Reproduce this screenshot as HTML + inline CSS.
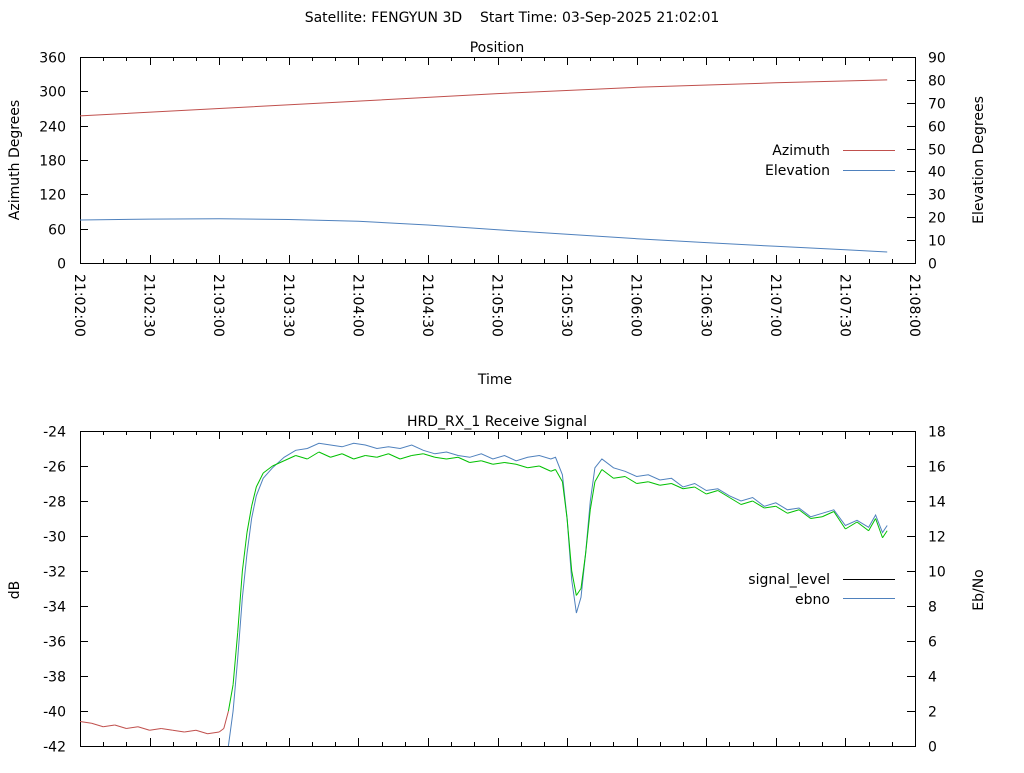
<!DOCTYPE html>
<html><head><meta charset="utf-8"><style>
body{margin:0;background:#fff}
svg text{font-family:"DejaVu Sans","Liberation Sans",sans-serif;font-size:14px;fill:#000;white-space:pre}
</style></head><body>
<svg id="c" width="1024" height="768" viewBox="0 0 1024 768" xmlns="http://www.w3.org/2000/svg">
<defs>
<clipPath id="clipTop"><rect x="80" y="57" width="835" height="206"/></clipPath>
<clipPath id="clipBot"><rect x="80" y="431" width="835" height="315"/></clipPath>
</defs>
<text x="512" y="22" text-anchor="middle" xml:space="preserve">Satellite: FENGYUN 3D    Start Time: 03-Sep-2025 21:02:01</text>
<text x="497" y="52" text-anchor="middle">Position</text>
<text x="497" y="426" text-anchor="middle">HRD_RX_1 Receive Signal</text>
<text x="495" y="384" text-anchor="middle">Time</text>
<text transform="translate(19,160) rotate(-90)" text-anchor="middle">Azimuth Degrees</text>
<text transform="translate(983,160) rotate(-90)" text-anchor="middle">Elevation Degrees</text>
<text transform="translate(19,590) rotate(-90)" text-anchor="middle">dB</text>
<text transform="translate(983,590) rotate(-90)" text-anchor="middle">Eb/No</text>
<g id="g"></g>
</svg>
<script>
// Position data (seconds since 21:02:00)
const posTimes = [0, 60, 120, 180, 240, 300, 348];
const azimuth = [257, 270, 283, 296, 307, 315, 320];
const elevTimes = [0, 30, 60, 90, 120, 150, 180, 210, 240, 270, 300, 330, 348];
const elevation = [18.8, 19.2, 19.3, 19.0, 18.2, 16.6, 14.5, 12.6, 10.6, 8.9, 7.3, 5.8, 4.8];
// Signal data
const sigTimes = [0,5,10,15,20,25,30,35,40,45,50,55,60,62,64,66,68,70,72,74,76,79,83,88,93,98,103,108,113,118,123,128,133,138,143,148,153,158,163,168,173,178,183,188,193,198,203,205,208,210,212,214,216,218,220,222,225,230,235,240,245,250,255,260,265,270,275,280,285,290,295,300,305,310,315,320,325,330,335,340,343,346,348];
const signalLevel = [-40.6,-40.7,-40.9,-40.8,-41.0,-40.9,-41.1,-41.0,-41.1,-41.2,-41.1,-41.3,-41.2,-41.0,-40.0,-38.5,-35.5,-32.0,-29.8,-28.3,-27.2,-26.4,-26.0,-25.7,-25.4,-25.6,-25.2,-25.5,-25.3,-25.6,-25.4,-25.5,-25.3,-25.6,-25.4,-25.3,-25.5,-25.6,-25.5,-25.8,-25.7,-25.9,-25.8,-25.9,-26.1,-26.0,-26.3,-26.2,-26.9,-29.0,-32.0,-33.4,-33.0,-31.0,-28.5,-26.9,-26.2,-26.7,-26.6,-27.0,-26.9,-27.1,-27.0,-27.3,-27.2,-27.6,-27.4,-27.8,-28.2,-28.0,-28.4,-28.3,-28.7,-28.5,-29.0,-28.9,-28.6,-29.6,-29.2,-29.7,-29.0,-30.1,-29.7];
const ebno = [-2,-2,-2,-2,-2,-2,-2,-2,-2,-2,-2,-2,-2,-1.5,0,2.0,5.0,8.5,11.0,13.0,14.3,15.3,15.9,16.5,16.9,17.0,17.3,17.2,17.1,17.3,17.2,17.0,17.1,17.0,17.2,16.9,16.7,16.8,16.6,16.5,16.7,16.4,16.6,16.3,16.5,16.6,16.4,16.5,15.5,13.0,9.5,7.6,8.5,11.0,14.0,15.9,16.4,15.9,15.7,15.4,15.5,15.2,15.3,14.8,15.0,14.6,14.7,14.3,14.0,14.2,13.7,13.9,13.5,13.6,13.1,13.3,13.5,12.6,12.9,12.5,13.2,12.2,12.6];
const azTicks = [0,60,120,180,240,300,360];
const elTicks = [0,10,20,30,40,50,60,70,80,90];
const dbTicks = [-42,-40,-38,-36,-34,-32,-30,-28,-26,-24];
const ebTicks = [0,2,4,6,8,10,12,14,16,18];
const timeLabels = ["21:02:00","21:02:30","21:03:00","21:03:30","21:04:00","21:04:30","21:05:00","21:05:30","21:06:00","21:06:30","21:07:00","21:07:30","21:08:00"];

const NS="http://www.w3.org/2000/svg";
const G=document.getElementById('g');
const X0=80,X1=915;
const xs=t=>X0+(t/360)*(X1-X0);
const T={top:57,bot:263}, B={top:431,bot:746};
const yAz=v=>T.bot-(v/360)*(T.bot-T.top);
const yEl=v=>T.bot-(v/90)*(T.bot-T.top);
const yDb=v=>B.bot-((v+42)/18)*(B.bot-B.top);
const yEb=v=>B.bot-(v/18)*(B.bot-B.top);
function mk(tag,at){const e=document.createElementNS(NS,tag);for(const k in at)e.setAttribute(k,at[k]);G.appendChild(e);return e;}
function line(x1,y1,x2,y2,c,name){const e=mk('line',{x1,y1,x2,y2,stroke:c||'#000','stroke-width':1});

return e;}
function txt(x,y,s,anchor,name){const e=mk('text',{x,y,'text-anchor':anchor});e.textContent=s;

return e;}

function frame(P,name){
  const r=mk('rect',{x:X0+0.5,y:P.top+0.5,width:X1-X0,height:P.bot-P.top,fill:'none',stroke:'#000'});
  
  
  for(let t=0;t<=360;t+=10){const x=Math.round(xs(t))+0.5;const L=(t%30==0)?8:4;
    line(x,P.bot,x,P.bot-L,'#000','x-tick');line(x,P.top,x,P.top+L,'#000','x-tick');}
}
frame(T,'position-plot-frame');frame(B,'signal-plot-frame');
azTicks.forEach(v=>{const y=Math.round(yAz(v))+0.5;line(X0,y,X0+8,y,'#000','azimuth-tick');txt(66,y+5,String(v),'end','azimuth-tick-label');});
elTicks.forEach(v=>{const y=Math.round(yEl(v))+0.5;line(X1,y,X1-8,y,'#000','elevation-tick');txt(928,y+5,String(v),'start','elevation-tick-label');});
dbTicks.forEach(v=>{const y=Math.round(yDb(v))+0.5;line(X0,y,X0+8,y,'#000','db-tick');txt(66,y+5,String(v),'end','db-tick-label');});
ebTicks.forEach(v=>{const y=Math.round(yEb(v))+0.5;line(X1,y,X1-8,y,'#000','ebno-tick');txt(928,y+5,String(v),'start','ebno-tick-label');});
timeLabels.forEach((s,i)=>{const x=xs(i*30);const e=mk('text',{transform:`translate(${x-5},274) rotate(90)`,'text-anchor':'start'});e.textContent=s;
  
  });

function poly(ts,vs,fx,fy,color,clip,name){const p=ts.map((t,i)=>fx(t).toFixed(1)+','+fy(vs[i]).toFixed(1)).join(' ');
  const e=mk('polyline',{points:p,fill:'none',stroke:color,'stroke-width':1,'clip-path':`url(#${clip})`});
  
  }
poly(posTimes,azimuth,xs,yAz,'#c0504d','clipTop','azimuth-line');
poly(elevTimes,elevation,xs,yEl,'#4f81bd','clipTop','elevation-line');
poly(sigTimes,ebno,xs,yEb,'#4f81bd','clipBot','ebno-line');
for(let i=0;i<sigTimes.length-1;i++){
  const c=(signalLevel[i]<-40.05&&signalLevel[i+1]<-39.9)?'#c0504d':'#00c000';
  const e=mk('line',{x1:xs(sigTimes[i]),y1:yDb(signalLevel[i]),x2:xs(sigTimes[i+1]),y2:yDb(signalLevel[i+1]),stroke:c,'stroke-width':1,'clip-path':'url(#clipBot)'});
  
  
}
// legends
txt(830,155,'Azimuth','end','legend-azimuth-label');line(843,150.5,895,150.5,'#c0504d','legend-azimuth-swatch');
txt(830,175,'Elevation','end','legend-elevation-label');line(843,170.5,895,170.5,'#4f81bd','legend-elevation-swatch');
txt(830,584,'signal_level','end','legend-signal-label');line(843,579.5,895,579.5,'#000','legend-signal-swatch');
txt(830,604,'ebno','end','legend-ebno-label');line(843,598.5,895,598.5,'#4f81bd','legend-ebno-swatch');
</script>
</body></html>
